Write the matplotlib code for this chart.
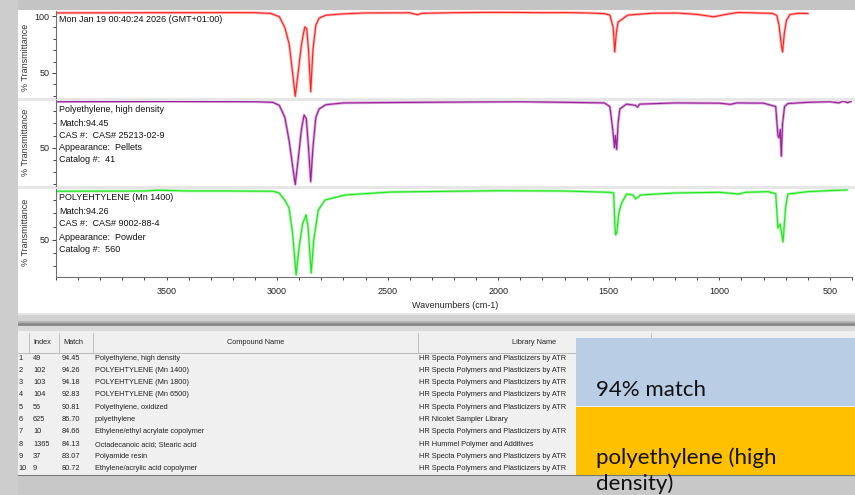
import matplotlib
matplotlib.use('Agg')
import matplotlib.pyplot as plt
from matplotlib.patches import Rectangle
from matplotlib.ticker import MultipleLocator

W, H = 855, 495

# --- spectra (wavenumber cm-1, % transmittance) ---
red_wn = [4000, 3800, 3600, 3400, 3200, 3100, 3030, 2990, 2965, 2945, 2930, 2918, 2905, 2890,
          2875, 2866, 2858, 2848, 2838, 2825, 2810, 2780, 2700, 2600, 2400, 2365, 2345, 2200,
          2100, 2000, 1900, 1800, 1700, 1600, 1520, 1495, 1480, 1473, 1466, 1458, 1414, 1300,
          1188, 1100, 1025, 970, 916, 800, 760, 740, 730, 720, 714, 706, 696, 680, 640, 600]
red_t = [102.8, 102.9, 103.0, 103.0, 103.1, 103.0, 102.4, 99.5, 90, 75, 50, 29.5, 50, 75,
         90.5, 89, 70, 33.5, 70, 92, 98.2, 100.8, 102.0, 102.8, 102.9, 101.2, 102.5, 103.0,
         103.2, 103.3, 103.2, 103.0, 103.1, 102.8, 102.2, 100.9, 90, 68.5, 85, 94.7, 100.9, 102.6,
         102.7, 101.5, 99.4, 101.5, 103.2, 102.6, 102.5, 100.5, 92, 75, 68.5, 85, 96.5, 101.5, 102.5, 102.3]

purple_wn = [4000, 3500, 3100, 3020, 2990, 2965, 2945, 2930, 2918, 2905, 2890, 2878, 2868, 2858,
             2848, 2838, 2825, 2810, 2780, 2700, 2500, 2100, 1900, 1700, 1520, 1495, 1482, 1474,
             1470, 1464, 1458, 1450, 1420, 1380, 1370, 1360, 1200, 1000, 950, 920, 800, 745,
             735, 730, 724, 720, 714, 705, 690, 600, 500, 460, 440, 420, 400]
purple_t = [88.0, 88.2, 88.0, 87.5, 85, 75, 55, 35, 19.5, 40, 65, 77, 74, 50,
            22, 50, 75, 82, 85.5, 87, 87.3, 87.8, 88, 87.5, 87, 84, 65, 50,
            60, 48.5, 70, 82, 86, 85, 83.5, 86, 87, 86.8, 85.8, 87, 86.8, 84,
            60, 58, 65, 43, 70, 84, 86.5, 87.5, 88, 87, 88.5, 87.2, 88.6]

green_wn = [4000, 3600, 3540, 3400, 3200, 3020, 2991, 2965, 2946, 2930, 2914, 2900, 2885, 2869,
            2860, 2846, 2834, 2814, 2783, 2692, 2488, 2200, 2000, 1700, 1500, 1478, 1472, 1469,
            1463, 1455, 1442, 1419, 1390, 1378, 1356, 1200, 1000, 912, 880, 780, 745, 735,
            725, 712, 700, 690, 600, 500, 422]
green_t = [86.8, 87.0, 87.6, 87.0, 87.0, 86.8, 85.5, 80, 74.2, 55, 23.6, 45, 62, 68.9,
           60, 25.1, 50, 72.6, 80.2, 84, 86.2, 86.8, 87.2, 87.0, 86.0, 85.5, 60, 53.8,
           56, 70, 77.9, 84.7, 84, 81, 84, 85.5, 86, 84.7, 86, 86.5, 85, 59,
           62, 48.5, 75, 84.7, 86.5, 87.3, 87.8]

# --- search results table ---
hit_index = ['49', '102', '103', '104', '56', '625', '10', '1365', '37', '9']
hit_match = ['94.45', '94.26', '94.18', '92.83', '90.81', '86.70', '84.66', '84.13', '83.07', '80.72']
hit_name = ['Polyethylene, high density', 'POLYEHTYLENE (Mn 1400)', 'POLYEHTYLENE (Mn 1800)',
            'POLYEHTYLENE (Mn 6500)', 'Polyethylene, oxidized', 'polyethylene',
            'Ethylene/ethyl acrylate copolymer', 'Octadecanoic acid; Stearic acid',
            'Polyamide resin', 'Ethylene/acrylic acid copolymer']
spa = 'HR Specta Polymers and Plasticizers by ATR'
hit_library = [spa, spa, spa, spa, spa, 'HR Nicolet Sampler Library', spa,
               'HR Hummel Polymer and Additives', spa, spa]

header1 = 'Mon Jan 19 00:40:24 2026 (GMT+01:00)'
info2 = ['Polyethylene, high density', 'Match:94.45', 'CAS #:  CAS# 25213-02-9',
         'Appearance:  Pellets', 'Catalog #:  41']
info3 = ['POLYEHTYLENE (Mn 1400)', 'Match:94.26', 'CAS #:  CAS# 9002-88-4',
         'Appearance:  Powder', 'Catalog #:  560']

NARROW = ['Liberation Sans Narrow', 'Liberation Sans', 'DejaVu Sans']


def frac(x0, y0, x1, y1):
    return [x0 / W, 1 - y1 / H, (x1 - x0) / W, (y1 - y0) / H]


fig = plt.figure(figsize=(W / 100, H / 100), dpi=100)
bg = fig.add_axes([0, 0, 1, 1])
bg.set_xlim(0, W)
bg.set_ylim(H, 0)
bg.axis('off')


def box(x0, y0, x1, y1, color, z=1):
    bg.add_patch(Rectangle((x0, y0), x1 - x0, y1 - y0, facecolor=color, lw=0, zorder=z))


# window chrome
box(0, 0, W, H, 'white', 0)
box(0, 0, W, 10, '#c4c4c4')
box(0, 0, 18, H, '#cdcdcd')
box(18, 98, W, 100.5, '#e6e6e6')
box(18, 186, W, 189, '#e6e6e6')
box(18, 313, W, 315, '#e4e4e4')
box(18, 315, W, 321, '#d2d2d2')
box(18, 321, W, 323, '#b4b4b4')
box(18, 323, W, 325.5, '#8c8c8c')
box(18, 325.5, W, 331, '#dadada')
box(18, 331, W, 475, '#f0f0f0')
box(18, 475, W, H, '#c8c8c8')
bg.plot([18, W], [475, 475], color='#7a7a7a', lw=0.8, zorder=2)
bg.plot([18, W], [352.5, 352.5], color='#b0b0b0', lw=0.6, zorder=2)
for xv in [29, 59, 93, 418, 651]:
    bg.plot([xv, xv], [333, 352.5], color='#b8b8b8', lw=0.6, zorder=2)

# y labels of the three panels
for yc in [57, 142, 232]:
    bg.text(25, yc, '% Transmittance', rotation=90, ha='center', va='center',
            fontsize=6.5, family=['Liberation Sans', 'DejaVu Sans'], color='#333333', zorder=3)

# spectra panels
panels = [(red_wn, red_t, '#ff2020', '#ffb4b4', (11, 98), (28, 104.5), [50, 100]),
          (purple_wn, purple_t, '#9a1f9a', '#d9a6d9', (100.5, 186), (18.3, 89), [50]),
          (green_wn, green_t, '#1ee61e', '#a8f5a8', (189, 277), (22, 88.5), [50])]
axes = []
for i, (wn, t, col, halo, (top, bot), ylim, yt) in enumerate(panels):
    ax = fig.add_axes(frac(56, top, 852, bot))
    ax.plot(wn, t, color=halo, lw=2.0, solid_joinstyle='round')
    ax.plot(wn, t, color=col, lw=0.8)
    ax.set_xlim(4000, 400)
    ax.set_ylim(*ylim)
    ax.set_yticks(yt)
    ax.yaxis.set_minor_locator(MultipleLocator(10))
    ax.tick_params(axis='y', which='major', length=3, width=0.6, pad=1.5,
                   labelsize=6.5, colors='#222222')
    ax.tick_params(axis='y', which='minor', length=2, width=0.6, colors='#222222')
    for s in ['top', 'right', 'bottom']:
        ax.spines[s].set_visible(False)
    ax.spines['left'].set_color('#707070')
    ax.spines['left'].set_linewidth(0.8)
    for lab in ax.get_yticklabels():
        lab.set_family(NARROW)
    if i < 2:
        ax.set_xticks([])
    else:
        ax.spines['bottom'].set_visible(True)
        ax.spines['bottom'].set_color('#707070')
        ax.spines['bottom'].set_linewidth(0.8)
        ax.set_xticks([3500, 3000, 2500, 2000, 1500, 1000, 500])
        ax.xaxis.set_minor_locator(MultipleLocator(100))
        ax.tick_params(axis='x', which='both', length=2.5, width=0.6, pad=5,
                       labelsize=6.5, colors='#222222')
        for lab in ax.get_xticklabels():
            lab.set_family(NARROW)
    axes.append(ax)

bg.text(455, 305, 'Wavenumbers (cm-1)', ha='center', va='center', fontsize=6.5,
        family=NARROW, color='#222222', zorder=3)

# panel annotations
ov = fig.add_axes([0, 0, 1, 1], facecolor='none')
ov.set_xlim(0, W)
ov.set_ylim(H, 0)
ov.axis('off')
ov.text(59, 19, header1, va='center', fontsize=6.5, family=NARROW, color='#111111')
for txt, yc in zip(info2, [109, 124, 136, 148, 159]):
    ov.text(59, yc, txt, va='center', fontsize=6.5, family=NARROW, color='#111111')
for txt, yc in zip(info3, [198, 212, 224, 237, 249]):
    ov.text(59, yc, txt, va='center', fontsize=6.5, family=NARROW, color='#111111')

# table
hdr = dict(ha='center', va='center', fontsize=5.3, family=NARROW, color='#222222')
ov.text(42, 343, 'Index', **hdr)
ov.text(73, 343, 'Match', **hdr)
ov.text(256, 343, 'Compound Name', **hdr)
ov.text(534, 343, 'Library Name', **hdr)
cell = dict(va='center', fontsize=5.3, family=NARROW, color='#222222')
for r in range(len(hit_index)):
    yc = 358 + r * 12.3
    ov.text(18.5, yc, str(r + 1), **cell)
    ov.text(33, yc, hit_index[r], **cell)
    ov.text(80, yc, hit_match[r], ha='right', **cell)
    ov.text(95, yc, hit_name[r], **cell)
    ov.text(419, yc, hit_library[r], **cell)

# overlay boxes
ov.add_patch(Rectangle((576, 338), W - 576, 68, facecolor='#b9cde5', lw=0))
ov.add_patch(Rectangle((576, 407), W - 576, 68, facecolor='#ffc000', lw=0))
big = dict(fontsize=16, family=['Lato', 'DejaVu Sans'], color='#111111', va='baseline')
ov.text(596, 396, '94% match', **big)
ov.text(596, 464, 'polyethylene (high', **big)
ov.text(596, 490, 'density)', **big)

fig.savefig('out.png', dpi=100)
